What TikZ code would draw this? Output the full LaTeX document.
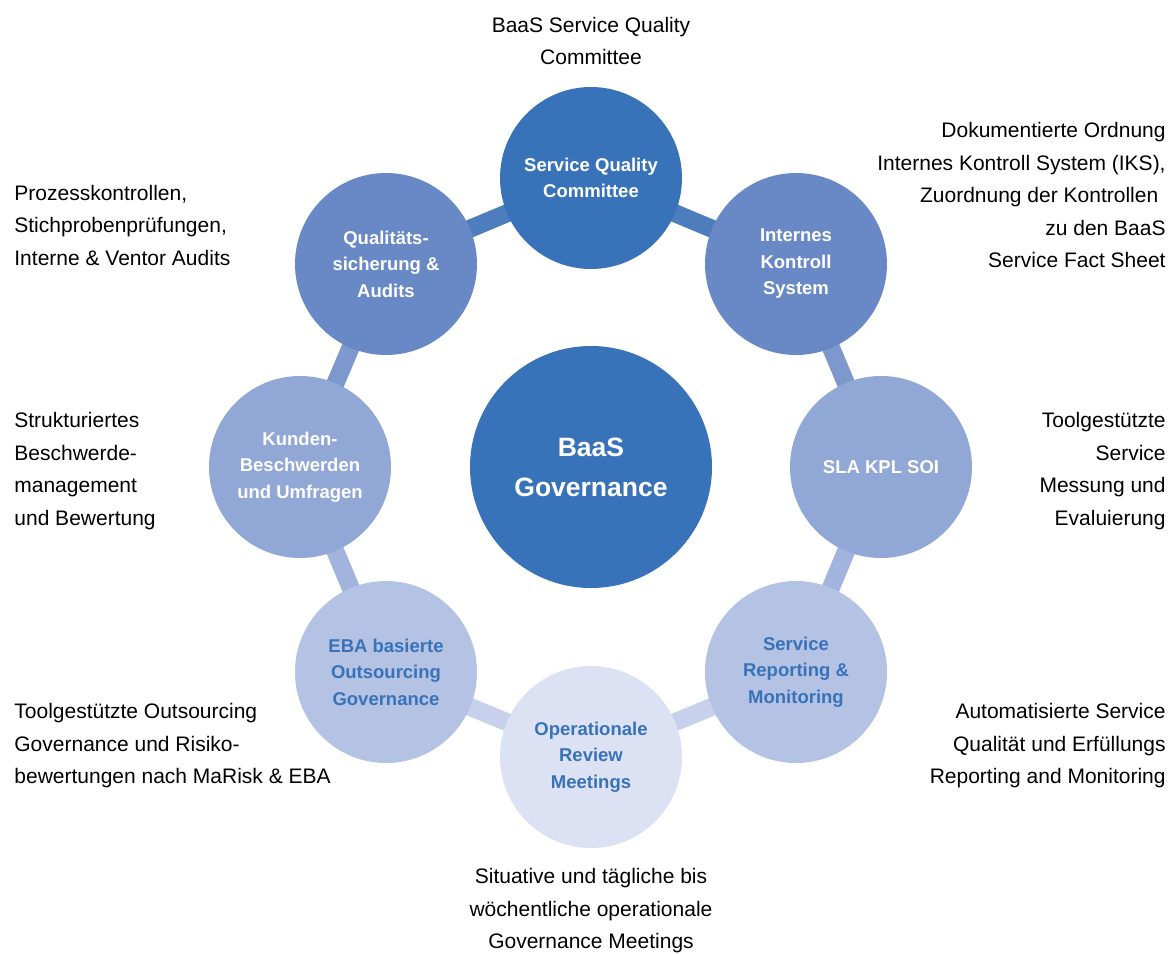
\documentclass[tikz,border=0pt]{standalone}
\usepackage{fontspec}
\setmainfont{Liberation Sans}
\usetikzlibrary{backgrounds}
\definecolor{cA}{HTML}{3873B9}
\definecolor{cB}{HTML}{6889C5}
\definecolor{cC}{HTML}{91A7D5}
\definecolor{cD}{HTML}{B4C2E4}
\definecolor{cE}{HTML}{DCE1F3}
\begin{document}
\begin{tikzpicture}[x=0.5pt,y=-0.5pt,
  bub/.style={circle, minimum size=91pt, inner sep=0pt, align=center,
    font=\fontsize{9.25}{13.25}\selectfont\bfseries},
  hub/.style={circle, minimum size=121pt, inner sep=0pt, align=center,
    font=\fontsize{13.25}{20}\selectfont\bfseries},
  lab/.style={inner sep=0pt, font=\fontsize{10.5}{16.25}\selectfont},
  link/.style={line width=9pt}]
\useasboundingbox (0,0) rectangle (1169,954);

% circles
\node[bub, fill=cA, text=white] (sq)  at (591,178) {Service Quality\\Committee};
\node[bub, fill=cB, text=white] (iks) at (796,264) {Internes\\Kontroll\\System};
\node[bub, fill=cC, text=white] (sla) at (881,467) {SLA KPL SOI};
\node[bub, fill=cD, text=cA]    (rep) at (796,672) {Service\\Reporting \&\\Monitoring};
\node[bub, fill=cE, text=cA]    (orm) at (591,757) {Operationale\\Review\\Meetings};
\node[bub, fill=cD, text=cA]    (eba) at (386,672) {EBA basierte\\Outsourcing\\Governance};
\node[bub, fill=cC, text=white] (kb)  at (300,467) {Kunden-\\Beschwerden\\und Umfragen};
\node[bub, fill=cB, text=white] (qs)  at (386,264) {Qualitäts-\\sicherung \&\\Audits};
\node[hub, fill=cA, text=white] (gov) at (591,467) {BaaS\\Governance};

% connectors
\begin{pgfonlayer}{background}
\draw[link, color=cA!55!cB] (sq.center) -- (iks.center);
\draw[link, color=cA!55!cB] (sq.center) -- (qs.center);
\draw[link, color=cB!50!cC] (iks.center) -- (sla.center);
\draw[link, color=cB!50!cC] (qs.center) -- (kb.center);
\draw[link, color=cC!50!cD] (sla.center) -- (rep.center);
\draw[link, color=cC!50!cD] (kb.center) -- (eba.center);
\draw[link, color=cD!50!cE] (rep.center) -- (orm.center);
\draw[link, color=cD!50!cE] (eba.center) -- (orm.center);
\end{pgfonlayer}

% labels
\node[lab, align=center] (tsq) at (591,41) {BaaS Service Quality\\Committee};
\node[lab, align=right, anchor=east] (tiks) at (1166,195) {Dokumentierte Ordnung\\Internes Kontroll System (IKS),\\Zuordnung der Kontrollen\hspace*{0.35em}\mbox{}\\zu den BaaS\\Service Fact Sheet};
\node[lab, align=left, anchor=west] (tqs) at (14,225) {Prozesskontrollen,\\Stichprobenprüfungen,\\Interne \& Ventor Audits};
\node[lab, align=left, anchor=west] (tkb) at (14,471) {Strukturiertes\\Beschwerde-\\management\\und Bewertung};
\node[lab, align=right, anchor=east] (tsla) at (1166,471) {Toolgestützte\\Service\\Messung und\\Evaluierung};
\node[lab, align=left, anchor=west] (teba) at (14,746) {Toolgestützte Outsourcing\\Governance und Risiko-\\bewertungen nach MaRisk \& EBA};
\node[lab, align=right, anchor=east] (trep) at (1166,746) {Automatisierte Service\\Qualität und Erfüllungs\\Reporting and Monitoring};
\node[lab, align=center] (torm) at (591,911) {Situative und tägliche bis\\wöchentliche operationale\\Governance Meetings};
\end{tikzpicture}
\end{document}
